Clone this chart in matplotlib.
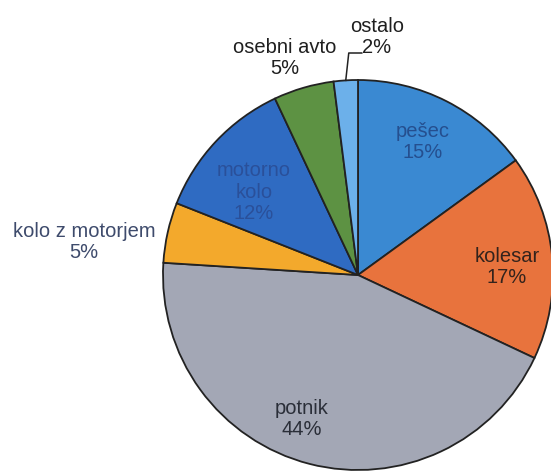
import numpy as np
import matplotlib
matplotlib.use("Agg")
import matplotlib.pyplot as plt

plt.rcParams['font.family'] = ['Liberation Sans', 'DejaVu Sans']

categories = ["pešec", "kolesar", "potnik", "kolo z motorjem", "motorno kolo", "osebni avto", "ostalo"]
values = [15, 17, 44, 5, 12, 5, 2]
label_texts = ["pešec\n15%", "kolesar\n17%", "potnik\n44%", "kolo z motorjem\n5%",
               "motorno\nkolo\n12%", "osebni avto\n5%", "ostalo\n2%"]
colors = ["#3a89d2", "#e8733d", "#a3a7b5", "#f3a92c", "#2f6bc2", "#5d9243", "#6cb0ea"]
text_colors = ["#254f8f", "#33231c", "#2a2e38", "#3e4b6c", "#2a509a", "#1f1f1f", "#1f1f1f"]

W, H = 551, 471
fig = plt.figure(figsize=(W / 100, H / 100), dpi=100)
ax = fig.add_axes([0, 0, 1, 1])

cx, cy, r = 358, H - 275, 195
wedges, _ = ax.pie(values, startangle=90, counterclock=False, colors=colors,
                   center=(cx, cy), radius=r,
                   wedgeprops=dict(edgecolor="#222222", linewidth=1.3))
ax.set_xlim(0, W)
ax.set_ylim(0, H)
ax.set_aspect('equal')
ax.axis('off')

# label placements in image pixel coordinates (x, y from top)
label_pos = [(423, 142), (507, 267), (302, 419), (84, 242), (254, 192), (285, 58), (377, 37)]
for txt, (x, y), tc in zip(label_texts, label_pos, text_colors):
    ax.text(x, H - y, txt, ha='center', va='center', fontsize=14.5,
            color=tc, linespacing=1.15)

# leader line for "ostalo"
w = wedges[-1]
theta = np.deg2rad((w.theta1 + w.theta2) / 2)
x0, y0 = cx + r * np.cos(theta), cy + r * np.sin(theta)
ax.plot([x0, x0 + 3, x0 + 16], [y0, H - 53, H - 53], color="#222222", lw=1.1)

fig.savefig("out.png", dpi=100)
